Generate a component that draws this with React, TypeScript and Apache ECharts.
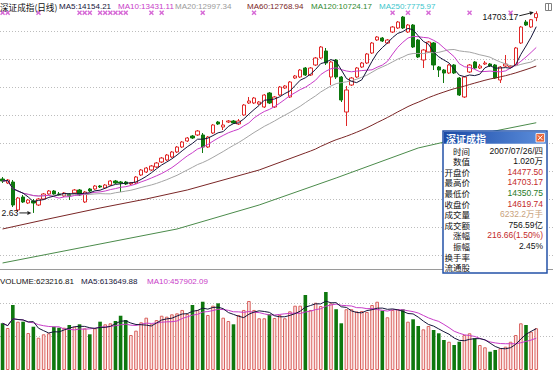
import React, { useEffect, useRef } from "react";
import * as echarts from "echarts";

// Daily candles: [open, close, low, high]
const candles: number[][] = [
  [8714, 8643, 8571, 8786],
  [8571, 8679, 8536, 8714],
  [8607, 7786, 7714, 8679],
  [7607, 8036, 7536, 8071],
  [8071, 7893, 7857, 8143],
  [7857, 7964, 7821, 8000],
  [7929, 7857, 7502.63, 8000],
  [7786, 8000, 7750, 8036],
  [8000, 8179, 7964, 8214],
  [8179, 8286, 8143, 8321],
  [8286, 8179, 8143, 8321],
  [8179, 8143, 8107, 8250],
  [8107, 8214, 8071, 8250],
  [8179, 8107, 7964, 8214],
  [8214, 8321, 8179, 8357],
  [8321, 8143, 8107, 8357],
  [7893, 8250, 7857, 8286],
  [8357, 8286, 8250, 8393],
  [8357, 8464, 8321, 8500],
  [8464, 8429, 8393, 8500],
  [8393, 8500, 8357, 8536],
  [8500, 8643, 8464, 8679],
  [8643, 8571, 8536, 8679],
  [8607, 8571, 8250, 8643],
  [8607, 8536, 8500, 8643],
  [8536, 8571, 8500, 8607],
  [8571, 8786, 8536, 8821],
  [8857, 9036, 8821, 9071],
  [8964, 9107, 8929, 9143],
  [9036, 9179, 9000, 9214],
  [9143, 9286, 9107, 9321],
  [9321, 9464, 9286, 9500],
  [9393, 9571, 9357, 9607],
  [9500, 9679, 9464, 9714],
  [9679, 9857, 9643, 9893],
  [9857, 10036, 9821, 10071],
  [10071, 10179, 10036, 10214],
  [10250, 10179, 10143, 10286],
  [10286, 10429, 10250, 10464],
  [10286, 9857, 9643, 10357],
  [9857, 10214, 9821, 10250],
  [10357, 10643, 10321, 10679],
  [10750, 10679, 10643, 10786],
  [10571, 10643, 10464, 10821],
  [10750, 10786, 10714, 10821],
  [10786, 10714, 10679, 10821],
  [10679, 10786, 10643, 10857],
  [11000, 11357, 10964, 11393],
  [11429, 11500, 11393, 11643],
  [11429, 11607, 11393, 11643],
  [11393, 11464, 11357, 11500],
  [11286, 11714, 11250, 11750],
  [11786, 11429, 11393, 11821],
  [11286, 11643, 11250, 11679],
  [11714, 12000, 11679, 12036],
  [11964, 12036, 11929, 12071],
  [11643, 12179, 11607, 12214],
  [12321, 12393, 12286, 12429],
  [12357, 12607, 12321, 12643],
  [12679, 12429, 12393, 12714],
  [12429, 12679, 12393, 12714],
  [12786, 13036, 12750, 13071],
  [13036, 13429, 13000, 13464],
  [13286, 12857, 12786, 13393],
  [12357, 12893, 12071, 12929],
  [12964, 12357, 12286, 13000],
  [12357, 11536, 11464, 12393],
  [11107, 11893, 10607, 12036],
  [12071, 12321, 12036, 12357],
  [12357, 12679, 12321, 12714],
  [12714, 12857, 12679, 12893],
  [12857, 13179, 12821, 13214],
  [13214, 13571, 13179, 13607],
  [13679, 13786, 13643, 13821],
  [13750, 13643, 13607, 13786],
  [13571, 13679, 13536, 13714],
  [13964, 14143, 13929, 14179],
  [14107, 14321, 14071, 14357],
  [14500, 14107, 14071, 14536],
  [13964, 14214, 13929, 14250],
  [14214, 13429, 13393, 14250],
  [13679, 13071, 13036, 13714],
  [12964, 13321, 12679, 13357],
  [13250, 13607, 13214, 13643],
  [13571, 12786, 12607, 13607],
  [12714, 12607, 12357, 12750],
  [12607, 12500, 12143, 12643],
  [12500, 12786, 12464, 12821],
  [12786, 12500, 12464, 12821],
  [12321, 11714, 11679, 12357],
  [11643, 12357, 11607, 12393],
  [12536, 12786, 12500, 12821],
  [12893, 12679, 12643, 12929],
  [12679, 12750, 12643, 12821],
  [12821, 12857, 12786, 12929],
  [12821, 12750, 12714, 12857],
  [12786, 12321, 12286, 12821],
  [12250, 12714, 12143, 12750],
  [12750, 12821, 12714, 13143],
  [12714, 12750, 12679, 12786],
  [12786, 13393, 12750, 13429],
  [13571, 14143, 13536, 14179],
  [14321, 14214, 14179, 14393],
  [14143, 14403.08, 14107, 14429],
  [14477.5, 14619.74, 14350.75, 14703.17],
];

const volumes: number[] = [
  697000, 627000, 970000, 721000, 721000, 552000, 646000, 482000, 533000, 548000,
  646000, 631000, 631000, 672000, 646000, 682000, 622000, 533000, 622000, 721000,
  682000, 697000, 731000, 810000, 746000, 522000, 587000, 712000, 781000, 682000,
  746000, 810000, 796000, 831000, 846000, 896000, 836000, 970000, 896000, 1019000,
  821000, 960000, 995000, 781000, 731000, 682000, 821000, 896000, 1030000, 896000,
  772000, 772000, 831000, 776000, 821000, 772000, 876000, 960000, 960000, 1119000,
  896000, 1004000, 955000, 1164000, 995000, 907000, 697000, 907000, 907000, 875000,
  881000, 866000, 970000, 1019000, 885000, 787000, 896000, 906000, 906000, 721000,
  757000, 657000, 607000, 657000, 597000, 548000, 448000, 422000, 373000, 422000,
  522000, 548000, 473000, 373000, 339000, 273000, 299000, 324000, 348000, 422000,
  522000, 697000, 672000, 572000, 623216.81,
];

const ma60Head: number[][] = [
  [0, 6929], [8, 7251], [19, 7679], [28, 8001], [36, 8322], [50, 9036],
];
// MA120: [index, value]
const ma120Points: number[][] = [
  [0, 5715], [17, 6322], [34, 6929], [50, 7786], [65, 8751], [81, 9822], [93, 10322], [104, 10724.17],
];
// event markers (×) along the top
const markerIndex: number[] = [0, 1, 7, 15, 16, 17, 19, 20, 21, 22, 23, 24, 29, 31, 39, 49, 76, 79, 83, 91, 99];

const priceLegendTexts = [
  "深证成指(日线)", "MA5:14154.21", "MA10:13431.11", "MA20:12997.34",
  "MA60:12768.94", "MA120:10724.17", "MA250:7775.97",
];
const volumeLegendTexts = ["VOLUME:623216.81", "MA5:613649.88", "MA10:457902.09"];
const lowLabelText = "2.63";

const infoTitle = "深证成指";
const infoLabels = ["时间", "数值", "开盘价", "最高价", "最低价", "收盘价", "成交量", "成交额", "涨幅", "振幅", "换手率", "流通股"];
const infoTexts = ["2007/07/26/四", "1.020万", "", "", "", "", "6232.2万手", "756.59亿", "216.66(1.50%)", "2.45%", "", ""];

const sma = (arr: number[], n: number) =>
  arr.map((_, i) => {
    const s = Math.max(0, i - n + 1);
    let t = 0;
    for (let k = s; k <= i; k++) t += arr[k];
    return Math.round((t / (i - s + 1)) * 100) / 100;
  });

const LATIN = '"Liberation Sans", Arial, "Noto Sans CJK SC", sans-serif';
const CJK = '"Noto Sans CJK SC", "Liberation Sans", sans-serif';

function txt(x: number, y: number, text: string, fill: string, size: number, opts: any = {}) {
  const align = opts.align || "left";
  return {
    type: "text",
    x,
    y,
    z: opts.z || 50,
    style: {
      text,
      fill,
      font: `${opts.weight || "normal"} ${size}px ${opts.family || LATIN}`,
      align,
      textAlign: align,
      verticalAlign: "middle",
      textVerticalAlign: "middle",
    },
  };
}

function arrow(x1: number, y1: number, x2: number, y2: number, color: string) {
  const dx = x2 - x1, dy = y2 - y1;
  const L = Math.hypot(dx, dy);
  const ux = dx / L, uy = dy / L, nx = -uy, ny = ux;
  const bx = x2 - ux * 4, by = y2 - uy * 4;
  return [
    { type: "line", z: 50, shape: { x1, y1, x2: bx, y2: by }, style: { stroke: color, lineWidth: 1 } },
    {
      type: "polygon", z: 50,
      shape: { points: [[x2, y2], [bx + nx * 2, by + ny * 2], [bx - nx * 2, by - ny * 2]] },
      style: { fill: color },
    },
  ];
}

export default function App() {
  const ref = useRef<HTMLDivElement>(null);

  useEffect(() => {
    const el = ref.current!;
    const chart = echarts.init(el, null, { renderer: "svg" });
    const N = candles.length;
    const cats = candles.map((_, i) => String(i));
    const closes = candles.map((c) => c[1]);
    const ma5 = sma(closes, 5);
    const ma10 = sma(closes, 10);
    const ma20 = sma(closes, 20);
    const ma60Full = sma(closes, 60);
    const ma60: number[][] = ma60Head.concat(
      ma60Full.map((v, i) => [i, v]).filter((p) => p[0] >= 59)
    );
    const vma5 = sma(volumes, 5);
    const vma10 = sma(volumes, 10);

    const UP = "#e02828";
    const DOWN = "#0e780e";
    const C_MA5 = "#15153a";
    const C_MA10 = "#c83cc8";
    const C_MA20 = "#a4a4a4";
    const C_MA60 = "#7a2626";
    const C_MA120 = "#4b8b4b";
    const C_MA250 = "#3cc6cc";

    const bandW = 5.14;
    const gridLeft = 1.7 - bandW / 2;
    const gridW = bandW * N;
    const gridLine = { color: "#bdbdbd", type: [1, 2] as any, width: 1 };

    const option: any = {
      animation: false,
      backgroundColor: "#ffffff",
      grid: [
        { left: gridLeft, top: 3, width: gridW, height: 280 },
        { left: gridLeft, top: 269.5, width: gridW, height: 100.5 },
        { left: 0, right: 0, top: 3, height: 280 },
        { left: 0, right: 0, top: 269.5, height: 100.5 },
      ],
      xAxis: [
        { type: "category", gridIndex: 0, data: cats, boundaryGap: true, show: false },
        { type: "category", gridIndex: 1, data: cats, boundaryGap: true, show: false },
        { type: "value", gridIndex: 2, min: 0, max: 1, show: false },
        {
          type: "value", gridIndex: 3, min: 0, max: 1, position: "top",
          axisLine: { show: true, onZero: false, lineStyle: { color: "#9a9a9a", width: 1 } },
          axisTick: { show: false }, axisLabel: { show: false }, splitLine: { show: false },
        },
      ],
      yAxis: [
        { type: "value", gridIndex: 0, min: 5000, max: 15000, interval: 1000, show: false },
        { type: "value", gridIndex: 1, min: 0, max: 1500000, interval: 500000, show: false },
        {
          type: "value", gridIndex: 2, min: 5000, max: 15000, interval: 1000,
          axisLine: { show: false }, axisTick: { show: false }, axisLabel: { show: false },
          splitLine: { show: true, showMinLine: false, showMaxLine: false, lineStyle: gridLine },
        },
        {
          type: "value", gridIndex: 3, min: 0, max: 1500000, interval: 500000,
          axisLine: { show: false }, axisTick: { show: false }, axisLabel: { show: false },
          splitLine: { show: true, showMinLine: false, showMaxLine: false, lineStyle: gridLine },
        },
      ],
      series: [
        { type: "line", xAxisIndex: 2, yAxisIndex: 2, data: [], silent: true },
        { type: "line", xAxisIndex: 3, yAxisIndex: 3, data: [], silent: true },
        {
          type: "candlestick", xAxisIndex: 0, yAxisIndex: 0, data: candles, barWidth: 3.8,
          itemStyle: { color: "#ffffff", color0: DOWN, borderColor: UP, borderColor0: DOWN, borderWidth: 1 },
        },
        { type: "line", xAxisIndex: 0, yAxisIndex: 0, data: ma120Points, showSymbol: false, symbol: "none", lineStyle: { color: C_MA120, width: 1 } },
        { type: "line", xAxisIndex: 0, yAxisIndex: 0, data: ma60, showSymbol: false, symbol: "none", lineStyle: { color: C_MA60, width: 1 } },
        { type: "line", xAxisIndex: 0, yAxisIndex: 0, data: ma20, showSymbol: false, symbol: "none", lineStyle: { color: C_MA20, width: 1 } },
        { type: "line", xAxisIndex: 0, yAxisIndex: 0, data: ma10, showSymbol: false, symbol: "none", lineStyle: { color: C_MA10, width: 1 } },
        { type: "line", xAxisIndex: 0, yAxisIndex: 0, data: ma5, showSymbol: false, symbol: "none", lineStyle: { color: C_MA5, width: 1 } },
        {
          type: "scatter", xAxisIndex: 0, yAxisIndex: 0,
          data: markerIndex.map((i) => [i, 14650]),
          symbol: "path://M0,2L2,0L5,3L8,0L10,2L7,5L10,8L8,10L5,7L2,10L0,8L3,5Z",
          symbolSize: 5, itemStyle: { color: "#cc44cc" }, z: 5,
        },
        {
          type: "bar", xAxisIndex: 1, yAxisIndex: 1, barWidth: 3.6,
          data: volumes.map((v, i) => ({
            value: v,
            itemStyle: candles[i][1] >= candles[i][0]
              ? { color: "#fde6e6", borderColor: "#d9625e", borderWidth: 1 }
              : { color: DOWN, borderColor: DOWN, borderWidth: 0 },
          })),
        },
        { type: "line", xAxisIndex: 1, yAxisIndex: 1, data: vma10, showSymbol: false, symbol: "none", lineStyle: { color: C_MA10, width: 1 } },
        { type: "line", xAxisIndex: 1, yAxisIndex: 1, data: vma5, showSymbol: false, symbol: "none", lineStyle: { color: C_MA5, width: 1 } },
      ],
    };
    chart.setOption(option);

    let lowIdx = 0;
    candles.forEach((c, i) => { if (c[2] < candles[lowIdx][2]) lowIdx = i; });
    const last = candles[N - 1];
    const hi = chart.convertToPixel({ gridIndex: 0 }, [N - 1, last[3]]) as number[];
    const lo = chart.convertToPixel({ gridIndex: 0 }, [lowIdx, candles[lowIdx][2]]) as number[];

    const g: any[] = [];
    const legendX = [0, 59, 118, 175, 247, 311, 379];
    const legendC = ["#111111", C_MA5, C_MA10, "#9a9a9a", C_MA60, "#2f8a2f", C_MA250];
    priceLegendTexts.forEach((t, i) =>
      g.push(txt(legendX[i], 6.5, t, legendC[i], i === 0 ? 8.6 : 8, i === 0 ? { family: CJK } : {}))
    );
    const vX = [0, 81, 147];
    const vC = ["#111111", C_MA5, C_MA10];
    volumeLegendTexts.forEach((t, i) => g.push(txt(vX[i], 281, t, vC[i], 8)));

    // top-right icon
    g.push({ type: "rect", z: 50, shape: { x: 545.5, y: 3.5, width: 6, height: 7 }, style: { fill: "#fff", stroke: "#808080", lineWidth: 1 } });
    g.push({ type: "line", z: 50, shape: { x1: 548.5, y1: 3.5, x2: 548.5, y2: 10.5 }, style: { stroke: "#808080", lineWidth: 1 } });

    // high label
    g.push(txt(hi[0] - 18, hi[1] + 5.5, last[3].toFixed(2), "#111111", 8.6, { align: "right" }));
    g.push(...arrow(hi[0] - 17, hi[1] + 4.5, hi[0] - 2.5, hi[1] + 1, "#222222"));
    // low label
    g.push(txt(lo[0] - 15, lo[1], lowLabelText, "#111111", 8.6, { align: "right" }));
    g.push(...arrow(lo[0] - 14, lo[1], lo[0] - 2, lo[1], "#222222"));

    // info box
    const bx = 443, by = 131, bw = 104, bh = 142;
    g.push({ type: "rect", z: 100, shape: { x: bx, y: by, width: bw, height: bh }, style: { fill: "#ffffff", stroke: "#2352a8", lineWidth: 1.5 } });
    g.push({
      type: "rect", z: 101, shape: { x: bx + 0.75, y: by + 0.75, width: bw - 1.5, height: 12 },
      style: {
        fill: new echarts.graphic.LinearGradient(0, 0, 1, 0, [
          { offset: 0, color: "#1b4aa6" }, { offset: 1, color: "#5d8fdc" },
        ]),
      },
    });
    g.push(txt(bx + 3, by + 7, infoTitle, "#ffffff", 10, { weight: "bold", family: CJK, z: 102 }));
    g.push({ type: "rect", z: 102, shape: { x: bx + bw - 11, y: by + 2.5, width: 8.5, height: 8.5 }, style: { fill: "#e8673c", stroke: "#ffffff", lineWidth: 0.8 } });
    g.push({ type: "line", z: 103, shape: { x1: bx + bw - 9, y1: by + 4.5, x2: bx + bw - 4.5, y2: by + 9 }, style: { stroke: "#fff", lineWidth: 1 } });
    g.push({ type: "line", z: 103, shape: { x1: bx + bw - 4.5, y1: by + 4.5, x2: bx + bw - 9, y2: by + 9 }, style: { stroke: "#fff", lineWidth: 1 } });

    const values = infoTexts.slice();
    values[2] = last[0].toFixed(2);
    values[3] = last[3].toFixed(2);
    values[4] = last[2].toFixed(2);
    values[5] = last[1].toFixed(2);
    const RED = "#c42a2a", GRN = "#1f7a1f", BLK = "#111111", TAN = "#c9a27c";
    const valC = [BLK, BLK, RED, RED, GRN, RED, TAN, BLK, RED, BLK, BLK, BLK];
    infoLabels.forEach((l, k) => {
      const y = 150.5 + k * 10.6;
      g.push(txt(470, y, l, BLK, 8.5, { align: "right", family: CJK, z: 102 }));
      if (values[k]) g.push(txt(543, y, values[k], valC[k], 8.5, { align: "right", z: 102 }));
    });

    chart.setOption({ graphic: g });
    return () => chart.dispose();
  }, []);

  return (
    <div
      ref={ref}
      style={{ position: "fixed", left: 0, top: 0, width: 553, height: 370, background: "#fff" }}
    />
  );
}
